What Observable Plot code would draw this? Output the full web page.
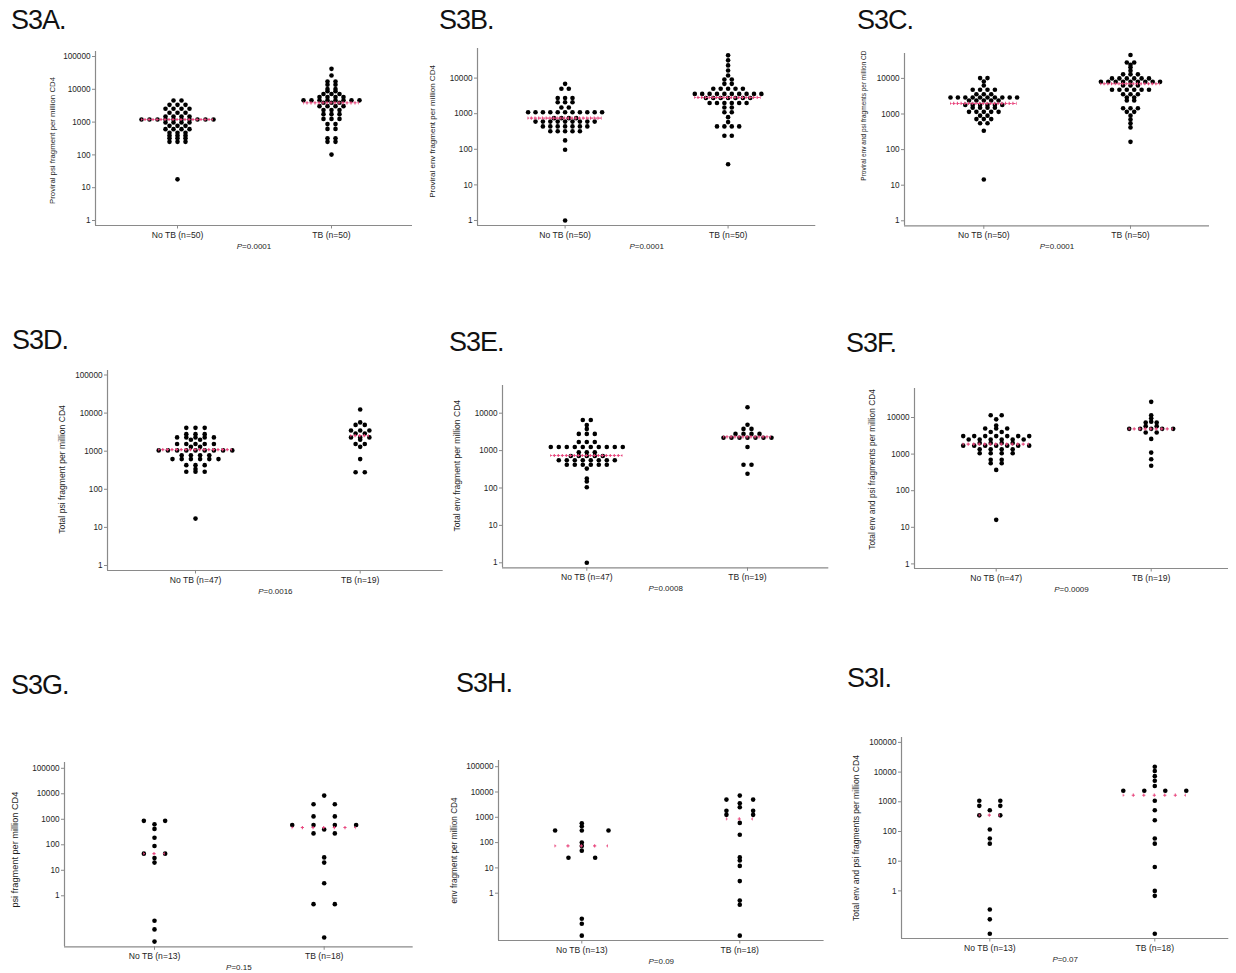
<!DOCTYPE html>
<html>
<head>
<meta charset="utf-8">
<script src="https://cdn.jsdelivr.net/npm/d3@7"></script>
<script src="https://cdn.jsdelivr.net/npm/@observablehq/plot@0.6"></script>
<style>
  body { margin: 0; background: #fff; }
  #page { position: relative; width: 1236px; height: 973px; overflow: hidden; font-family: "Liberation Sans", Arial, Helvetica, sans-serif; background: #fff; }
  .title { position: absolute; font-size: 27px; line-height: 27px; letter-spacing: -1px; color: #111; white-space: nowrap; }
  .panel { position: absolute; }
</style>
</head>
<body>
<div id="page"></div>
<script>
// ---------- DATA ----------
const panelTitles = ["S3A.", "S3B.", "S3C.", "S3D.", "S3E.", "S3F.", "S3G.", "S3H.", "S3I."];
const yLabels = [
  "Proviral psi fragment per million CD4",
  "Proviral env fragment per million CD4",
  "Proviral env and psi fragments per million CD",
  "Total psi fragment per million CD4",
  "Total env fragment per million CD4",
  "Total env and psi fragments per million CD4",
  "psi fragment per million CD4",
  "env fragment per million CD4",
  "Total env and psi fragments per million CD4"
];
const nNoTB = [50, 50, 50, 47, 47, 47, 13, 13, 13];
const nTB   = [50, 50, 50, 19, 19, 19, 18, 18, 18];
const pValues = ["0.0001", "0.0001", "0.0001", "0.0016", "0.0008", "0.0009", "0.15", "0.09", "0.07"];
const medNoTB = [1200, 750, 1980, 1100, 740, 1870, 45, 74, 355];
const medTB   = [3870, 2860, 7080, 2560, 2340, 4900, 475, 860, 1670];

const aNoTB = [4570,4570, 3360,3360,3360, 2540,2540,2540,2540, 1920,1920,1920, 1480,1480,1480,1480,
  1200,1200,1200,1200,1200,1200,1200,1200,1200,1200, 972,972,972,972, 769,769,769, 609,609,609,609,
  471,471,471, 390,390,390, 324,324,324, 250,250,250, 18];
const aTB = [42000, 26400, 17300,17300, 13700,13700, 10200,10200, 8700,8700, 7200,7200,7200,
  5800,5800,5800,5800, 4600,4600,4600,4600,4600,4600,4600,4600, 3870,3870,3870, 3060,3060,3060,3060,
  2350,2350,2350, 1750,1750,1750, 1250,1250,1250, 870,870, 620,620, 320,320, 250,250, 102];

const bNoTB = [6900, 5000,5000, 2750,2750,2750, 2100,2100,2100, 1500,1500,
  1100,1100,1100,1100,1100,1100,1100,1100,1100,1100,1100, 750,750,750,750,
  600,600,600,600,600,600,600,600,600, 440,440,440,440,440,440,440, 320,320,320,320,320, 178, 97, 1];
const bTB = [43500, 31500, 22700, 16400, 11800, 9100,9100, 6900,6900, 5000,5000,5000,5000,5000,
  3600,3600,3600,3600,3600,3600,3600,3600,3600,3600, 2750,2750,2750,2750,2750,2750,2750,
  2000,2000,2000,2000,2000,2000, 1500,1500, 1100,1100, 800, 580, 440,440,440,440, 240,240, 38];

const cNoTB = [10200,10200, 8200, 6300, 4800,4800,4800,4800, 3600,3600,3600,
  2900,2900,2900,2900,2900,2900,2900,2900,2900,2900, 2400,2400,2400,2400,2400,
  1800,1800,1800,1800,1800,1800, 1500,1500,1500,1500, 1150,1150,1150,1150,1150,
  900,900, 720,720,720, 550,550, 340, 14.5];
const cTB = [45500, 28000,28000, 24000, 20500, 16500, 13000,13000,13000, 10000,10000,10000,10000,10000,10000,
  8000,8000,8000,8000,8000,8000,8000,8000,8000, 6300,6300,6300, 4800,4800,4800,4800,4800,4800,
  3600,3600,3600, 2900,2900, 2400,2400, 1450,1450,1450, 1150,1150, 900, 700, 550, 420, 165];

const dNoTB = [4100,4100,4100, 2800,2800,2800, 2300,2300,2300,2300,2300, 2000,2000,
  1550,1550,1550,1550,1550, 1300,1300, 1050,1050,1050,1050,1050,1050,1050,1050,1050,
  780,780,780,780, 620,620,620,620,620,620, 430,430,430, 340, 290,290,290, 17];
const dTB = [12400, 5700, 4900,4900, 3500,3500,3500, 2900,2900, 2300,2300,2300, 2000, 1550,1550, 1300, 620, 280,280];

const eNoTB = [6600,6600, 4800, 3800, 2800,2800,2800, 1700,1700,1700,
  1250,1250,1250,1250,1250,1250,1250,1250,1250,1250, 900,900,900, 720,720,720,720,720,
  550,550,550,550,550,550,550,550, 420,420,420,420,420,420, 330, 180, 150, 105, 1];
const eTB = [14400, 4900, 3800,3800, 2800,2800,2800,2800, 2200,2200,2200,2200,2200,2200,2200, 1250, 420,420, 240];

const fNoTB = [11500,11500, 8900, 6000, 5000,5000,5000, 4000,4000,
  3100,3100,3100,3100,3100,3100,3100, 2500,2500,2500,2500,2500,2500, 2000,2000,2000,2000,
  1700,1700,1700,1700,1700,1700,1700, 1350,1350,1350,1350, 1050,1050,1050,1050,
  700,700, 560,560, 370, 16];
const fTB = [26800, 11500, 9500, 7700, 7300,7300, 5800,5800, 4900,4900,4900,4900,4900, 3900,3900, 2600, 1100, 720, 480];

const gNoTB = [870,870, 640, 420, 190, 90, 45,45, 30, 20, 0.105, 0.048, 0.016];
const gTB = [8500, 3900,3900, 1300,1300, 600,600,600,600, 400, 280,280, 32, 20, 3.1, 0.47,0.47, 0.023];

const hNoTB = [580, 440, 300,300,300, 100, 74, 48, 25,25, 0.097, 0.062, 0.021];
const hTB = [7200, 5000,5000, 3600, 2500, 1800,1800, 1250,1250, 600, 205, 26, 19.5, 12, 3, 0.51, 0.35, 0.021];

const iNoTB = [1080,1080, 730,730, 520, 350,350, 117, 58, 39, 0.235, 0.11, 0.036];
const iTB = [15200, 10900, 7300, 5100, 3400, 2350,2350,2350,2350, 1080, 520, 240, 58, 39, 6.4, 1, 0.68, 0.036];

const noTBSeries = [aNoTB, bNoTB, cNoTB, dNoTB, eNoTB, fNoTB, gNoTB, hNoTB, iNoTB];
const tbSeries   = [aTB, bTB, cTB, dTB, eTB, fTB, gTB, hTB, iTB];
const decadeTicks = [1, 10, 100, 1000, 10000, 100000];

// ---------- LAYOUT (page geometry, px) ----------
const layout = [
  {left:95,    right:412,  top:51,    bottom:225,   g0:177,   g1:331,    y1:220,   dec:32.8, sp:8,    labDx:-43,   labDy:2,   labFs:7.8, tx:11,  tb:30},
  {left:476.7, right:815,  top:48,    bottom:225,   g0:564.3, g1:727.3,  y1:220,   dec:35.6, sp:7.4,  labDx:-44.7, labDy:-5.5,labFs:8,   tx:439, tb:30},
  {left:904,   right:1209, top:52.7,  bottom:225,   g0:983.3, g1:1130,   y1:220,   dec:35.6, sp:7.4,  labDx:-41,   labDy:-24, labFs:6.5, tx:857, tb:30},
  {left:107.3, right:443,  top:370,   bottom:570,   g0:195.3, g1:360,    y1:565,   dec:38.1, sp:9.2,  labDx:-45.6, labDy:-1,  labFs:8.6, tx:12,  tb:350},
  {left:501.7, right:828,  top:385,   bottom:567.3, g0:586,   g1:746.7,  y1:562.3, dec:37.4, sp:8,    labDx:-45,   labDy:-11, labFs:8.6, tx:449, tb:352},
  {left:914,   right:1228, top:388.3, bottom:568.3, g0:995.7, g1:1150.7, y1:563.7, dec:36.6, sp:11,   labDx:-42.3, labDy:-9,  labFs:8.3, tx:846, tb:353},
  {left:64.3,  right:413,  top:761.7, bottom:946,   g0:154.3, g1:324,    y1:895,   dec:25.5, sp:21.3, labDx:-49.3, labDy:-5,  labFs:9.2, tx:11,  tb:695},
  {left:497.7, right:823.3,top:760,   bottom:940,   g0:581,   g1:739,    y1:892.7, dec:25.3, sp:26.7, labDx:-44.4, labDy:0,   labFs:8.2, tx:456, tb:693},
  {left:900.7, right:1228, top:737.3, bottom:938.3, g0:989,   g1:1154,   y1:890.7, dec:29.7, sp:21,   labDx:-45.7, labDy:0,   labFs:8.6, tx:847, tb:688}
];

const axisColor = "#8a8a8a";
const textColor = "#1e1e1e";
const pink = "#e8457c";
const page = document.getElementById("page");

function drawPanel(i) {
  const L = layout[i];
  const svgLeft = L.left - 62, svgTop = L.top - 6;
  const mR = 6, mB = 34;
  const width = L.right - svgLeft + mR;
  const height = L.bottom - svgTop + mB;
  const step = L.g1 - L.g0;
  const xDomain = [(L.left - L.g0) / step, (L.right - L.g0) / step];
  const yDomain = [10 ** (-(L.bottom - L.y1) / L.dec), 10 ** ((L.y1 - L.top) / L.dec)];
  const k = L.sp / step;

  // column-scatter layout: equal values share a row, spread symmetrically
  const pts = [];
  [noTBSeries[i], tbSeries[i]].forEach((vals, g) => {
    for (const [v, arr] of d3.group(vals, d => d)) {
      const n = arr.length;
      arr.forEach((_, j) => pts.push({g, v, off: j - (n - 1) / 2}));
    }
  });
  const meds = [0, 1].map(g => ({
    g, v: g === 0 ? medNoTB[i] : medTB[i],
    w: d3.max(pts.filter(p => p.g === g), p => Math.abs(p.off))
  }));
  const ticks = decadeTicks.filter(t => t >= yDomain[0] && t <= yDomain[1]);
  const xLabels = [`No TB (n=${nNoTB[i]})`, `TB (n=${nTB[i]})`];
  const h = L.sp / 2;
  const armLen = 3.2, armW = 1.1;

  const svg = Plot.plot({
    width, height,
    marginLeft: L.left - svgLeft, marginRight: mR, marginTop: L.top - svgTop, marginBottom: mB,
    style: {background: "none", fontFamily: '"Liberation Sans", Arial, Helvetica, sans-serif', color: textColor, fontSize: "8px"},
    x: {domain: xDomain},
    y: {type: "log", domain: yDomain},
    marks: [
      Plot.ruleX([xDomain[0]], {stroke: axisColor, strokeWidth: 1.2}),
      Plot.ruleY([yDomain[0]], {stroke: axisColor, strokeWidth: 1.2}),
      Plot.axisY({ticks, tickFormat: d => String(d), tickSize: 3, tickPadding: 2, fontSize: 8.2, stroke: axisColor, fill: textColor, label: null}),
      Plot.axisX({ticks: [0, 1], tickFormat: d => xLabels[d], tickSize: 3.5, tickPadding: 2.5, fontSize: 8.6, stroke: axisColor, fill: textColor, label: null}),
      Plot.dot(pts, {x: d => d.g + d.off * k, y: "v", r: 2.3, fill: "#000"}),
      // median line drawn as a row of small pink "+" marks (horizontal arms + vertical arms)
      Plot.ruleY(meds, {y: "v", x1: d => d.g - d.w * k, x2: d => d.g + d.w * k, stroke: pink, strokeWidth: armW,
        strokeDasharray: `${armLen},${Math.max(h - armLen, 0.8)}`, strokeDashoffset: armLen / 2, strokeOpacity: 0.95}),
      Plot.ruleY(meds, {y: "v", x1: d => d.g - d.w * k, x2: d => d.g + d.w * k, stroke: pink, strokeWidth: armLen,
        strokeDasharray: `${armW},${Math.max(h - armW, 0.8)}`, strokeDashoffset: armW / 2, strokeOpacity: 0.95}),
      Plot.text([yLabels[i]], {text: d => d, frameAnchor: "left", textAnchor: "middle", lineAnchor: "middle",
        rotate: -90, dx: L.labDx, dy: L.labDy, fontSize: L.labFs, fill: textColor}),
      Plot.text([`P=${pValues[i]}`], {text: d => d, frameAnchor: "bottom", textAnchor: "middle", lineAnchor: "middle",
        dy: 21, fontSize: 8, fill: textColor})
    ]
  });

  // italic "P" in the p-value caption
  svg.querySelectorAll("text").forEach(t => {
    if (t.childElementCount === 0 && t.textContent.startsWith("P=")) {
      const rest = t.textContent.slice(1);
      t.textContent = "";
      const ts = document.createElementNS("http://www.w3.org/2000/svg", "tspan");
      ts.setAttribute("font-style", "italic");
      ts.textContent = "P";
      t.appendChild(ts);
      t.appendChild(document.createTextNode(rest));
    }
  });

  const wrap = document.createElement("div");
  wrap.className = "panel";
  wrap.style.left = svgLeft + "px";
  wrap.style.top = svgTop + "px";
  wrap.appendChild(svg);
  page.appendChild(wrap);

  const title = document.createElement("div");
  title.className = "title";
  title.textContent = panelTitles[i];
  title.style.left = L.tx + "px";
  title.style.top = (L.tb - 23) + "px";
  page.appendChild(title);
}

for (let i = 0; i < 9; i++) drawPanel(i);
</script>
</body>
</html>
